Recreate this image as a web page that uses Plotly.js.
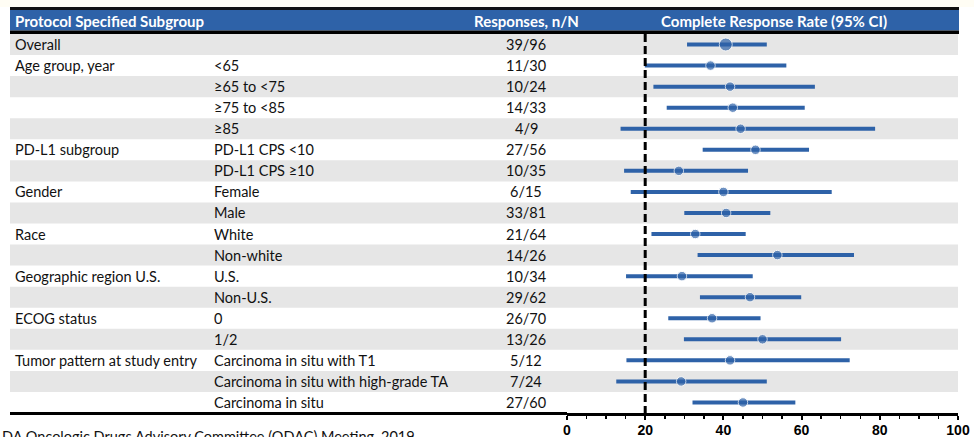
<!DOCTYPE html>
<html>
<head>
<meta charset="utf-8">
<script src="https://cdn.plot.ly/plotly-3.0.1.min.js"></script>
<style>html,body{margin:0;padding:0;background:#fff;}#chart{width:974px;height:437px;}</style>
</head>
<body>
<div id="chart"></div>
<script>
const groups = ["Overall","Age group, year","","","","PD-L1 subgroup","","Gender","","Race","","Geographic region U.S.","","ECOG status","","Tumor pattern at study entry","",""];
const subgroups = ["","<65","≥65 to <75","≥75 to <85","≥85","PD-L1 CPS <10","PD-L1 CPS ≥10","Female","Male","White","Non-white","U.S.","Non-U.S.","0","1/2","Carcinoma in situ with T1","Carcinoma in situ with high-grade TA","Carcinoma in situ"];
const responses = ["39/96","11/30","10/24","14/33","4/9","27/56","10/35","6/15","33/81","21/64","14/26","10/34","29/62","26/70","13/26","5/12","7/24","27/60"];
const rate = [40.6,36.7,41.7,42.4,44.4,48.2,28.6,40.0,40.7,32.8,53.8,29.4,46.8,37.1,50.0,41.7,29.2,45.0];
const ciLow = [30.7,19.9,22.1,25.5,13.7,34.7,14.6,16.3,30.0,21.6,33.4,15.1,34.0,25.9,29.9,15.2,12.6,32.1];
const ciHigh = [51.1,56.1,63.4,60.8,78.8,61.9,46.3,67.7,52.0,45.7,73.4,47.5,59.9,49.5,70.1,72.3,51.1,58.4];
const headers = ["Protocol Specified Subgroup","Responses, n/N","Complete Response Rate (95% CI)"];
const xTicks = [0,20,40,60,80,100];
const refLine = 20;
const footer = "DA Oncologic Drugs Advisory Committee (ODAC) Meeting, 2019";

const W = 974, H = 437;
const BLUE = "#2E62A8";
const GRAY = "#E6E6E6";
const TXT = "Lato, 'Noto Sans', sans-serif";
const py = p => 1 - p / H;
const px = p => p / W;

const rows = subgroups.map((_, i) => i);

const shapes = [];
rows.forEach(i => {
  if (i % 2 === 0) {
    shapes.push({type:"rect", xref:"paper", yref:"y", x0:px(10), x1:px(958), y0:i-0.5, y1:i+0.5,
      fillcolor:GRAY, line:{width:0}, layer:"below"});
  }
});
shapes.push({type:"rect", xref:"paper", yref:"paper", x0:0, x1:1, y0:py(7), y1:1, fillcolor:"#FFFDF4", line:{width:0}, layer:"below"});
shapes.push({type:"rect", xref:"paper", yref:"paper", x0:px(10), x1:px(959), y0:py(10), y1:py(7), fillcolor:"#111", line:{width:0}, layer:"below"});
shapes.push({type:"rect", xref:"paper", yref:"paper", x0:px(10), x1:px(959), y0:py(30.5), y1:py(10), fillcolor:BLUE, line:{width:0}, layer:"below"});
shapes.push({type:"rect", xref:"paper", yref:"paper", x0:px(10), x1:px(959), y0:py(34), y1:py(30.5), fillcolor:"#000", line:{width:0}, layer:"below"});
shapes.push({type:"line", xref:"paper", yref:"paper", x0:px(10), x1:px(567), y0:py(413.5), y1:py(413.5), line:{color:"#000", width:3}});
shapes.push({type:"line", xref:"x", yref:"y", x0:refLine, x1:refLine, y0:-0.5, y1:17.5,
  line:{color:"#000", width:3, dash:"8px,4px"}});

const ann = [];
const hdrFont = {family:TXT, size:15, color:"#fff", weight:"bold"};
ann.push({xref:"paper", yref:"paper", x:px(13), y:py(20.5), xanchor:"left", yanchor:"middle", text:headers[0], showarrow:false, font:hdrFont});
ann.push({xref:"paper", yref:"paper", x:px(526), y:py(20.5), xanchor:"center", yanchor:"middle", text:headers[1], showarrow:false, font:hdrFont});
ann.push({xref:"paper", yref:"paper", x:px(774), y:py(20.5), xanchor:"center", yanchor:"middle", text:headers[2], showarrow:false, font:hdrFont});
const bodyFont = {family:TXT, size:14.5, color:"#111"};
rows.forEach(i => {
  if (groups[i]) ann.push({xref:"paper", yref:"y", x:px(13), y:i, xanchor:"left", yanchor:"middle", text:groups[i], showarrow:false, font:bodyFont});
  if (subgroups[i]) ann.push({xref:"paper", yref:"y", x:px(212), y:i, xanchor:"left", yanchor:"middle", text:subgroups[i], showarrow:false, font:bodyFont});
  ann.push({xref:"paper", yref:"y", x:px(526), y:i, xanchor:"center", yanchor:"middle", text:responses[i], showarrow:false, font:bodyFont});
});
ann.push({xref:"paper", yref:"paper", x:0, y:py(426), xanchor:"left", yanchor:"top", text:footer, showarrow:false,
  font:{family:TXT, size:14.5, color:"#111"}});

const trace = {
  type:"scatter", mode:"markers",
  x: rate, y: rows,
  marker:{color:BLUE, size: rows.map(i => i === 0 ? 13 : 9.5)},
  error_x:{type:"data", symmetric:false,
    array: rate.map((r, i) => ciHigh[i] - r),
    arrayminus: rate.map((r, i) => r - ciLow[i]),
    color:BLUE, thickness:4, width:0},
  hoverinfo:"skip", showlegend:false, cliponaxis:false
};

const layout = {
  width:W, height:H,
  margin:{l:0, r:0, t:0, b:0},
  paper_bgcolor:"#fff", plot_bgcolor:"rgba(0,0,0,0)",
  showlegend:false,
  xaxis:{domain:[px(567), px(958)], range:[0,100], tickvals:xTicks, ticktext:xTicks.map(String),
    showgrid:false, zeroline:false, showline:true, linecolor:"#000", linewidth:3,
    ticks:"outside", ticklen:4, tickwidth:2, tickcolor:"#000",
    minor:{dtick:5, tick0:0, ticks:"outside", ticklen:3, tickwidth:1.5, tickcolor:"#000", showgrid:false},
    tickfont:{family:"'Liberation Sans', Arial, sans-serif", size:14, color:"#000", weight:"bold"},
    ticklabelstandoff:-2, fixedrange:true},
  yaxis:{domain:[1 - 413/H, 1], range:[17.5, -2.114], showgrid:false, zeroline:false, showline:false,
    showticklabels:false, ticks:"", fixedrange:true},
  shapes: shapes,
  annotations: ann
};

Plotly.newPlot("chart", [trace], layout, {staticPlot:true, displayModeBar:false});
</script>
</body>
</html>
